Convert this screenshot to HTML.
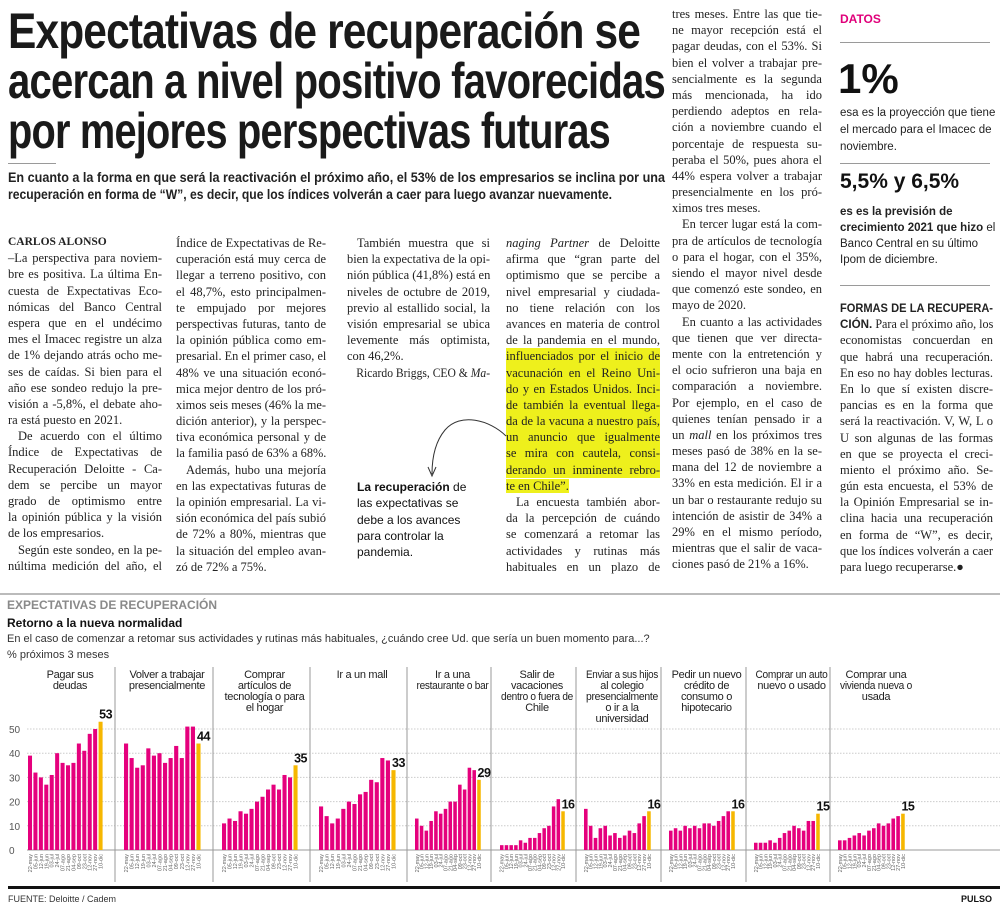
<!DOCTYPE html>
<html><head><meta charset="utf-8">
<style>
*{margin:0;padding:0;box-sizing:border-box}
body{width:1000px;height:911px;position:relative;background:#fff;overflow:hidden;font-family:"Liberation Serif",serif;color:#222}
.abs{position:absolute}
.fit{white-space:nowrap;transform-origin:0 50%;display:inline-block}
.hl{font-family:"Liberation Sans",sans-serif;font-weight:bold;font-size:50px;color:#1a1a1a;letter-spacing:-1px;line-height:50px}
.sub{font-family:"Liberation Sans",sans-serif;font-weight:bold;font-size:14px;color:#222;line-height:17px}
.col{position:absolute;font-size:12.5px;line-height:16.2px}
.col div{white-space:nowrap;text-align:justify;text-align-last:justify;height:16.2px;transform-origin:0 50%}
.col div.e{text-align:left;text-align-last:left}
.col div.i{padding-left:10px}
.y{background:#eef01c}
.sans{font-family:"Liberation Sans",sans-serif}
.rule{position:absolute;height:1px;background:#9a9a9a}
</style></head>
<body>
<div class="abs" style="left:8px;top:6px">
 <div class="hl"><span class="fit" data-w="632">Expectativas de recuperación se</span></div>
 <div class="hl"><span class="fit" data-w="657">acercan a nivel positivo favorecidas</span></div>
 <div class="hl"><span class="fit" data-w="602">por mejores perspectivas futuras</span></div>
</div>
<div class="rule" style="left:8px;top:163px;width:48px"></div>
<div class="abs" style="left:8px;top:169px">
 <div class="sub"><span class="fit" data-w="657">En cuanto a la forma en que será la reactivación el próximo año, el 53% de los empresarios se inclina por una</span></div>
 <div class="sub"><span class="fit" data-w="604">recuperación en forma de “W”, es decir, que los índices volverán a caer para luego avanzar nuevamente.</span></div>
</div>

<div class="col" style="left:8px;top:234px;width:154px;line-height:16.05px">
<div class="e" style="font-weight:bold;font-size:11.5px">CARLOS ALONSO</div>
<div>–La perspectiva para noviem-</div>
<div>bre es positiva. La última En-</div>
<div>cuesta de Expectativas Eco-</div>
<div>nómicas del Banco Central</div>
<div>espera que en el undécimo</div>
<div>mes el Imacec registre un alza</div>
<div>de 1% dejando atrás ocho me-</div>
<div>ses de caídas. Si bien para el</div>
<div>año ese sondeo redujo la pre-</div>
<div>visión a -5,8%, el debate aho-</div>
<div class="e">ra está puesto en 2021.</div>
<div class="i">De acuerdo con el último</div>
<div>Índice de Expectativas de</div>
<div>Recuperación Deloitte - Ca-</div>
<div>dem se percibe un mayor</div>
<div>grado de optimismo entre</div>
<div>la opinión pública y la visión</div>
<div class="e">de los empresarios.</div>
<div class="i">Según este sondeo, en la pe-</div>
<div>núltima medición del año, el</div>
</div>

<div class="col" style="left:176px;top:235px;width:150px">
<div>Índice de Expectativas de Re-</div>
<div>cuperación está muy cerca de</div>
<div>llegar a terreno positivo, con</div>
<div>el 48,7%, esto principalmen-</div>
<div>te empujado por mejores</div>
<div>perspectivas futuras, tanto de</div>
<div>la opinión pública como em-</div>
<div>presarial. En el primer caso, el</div>
<div>48% ve una situación econó-</div>
<div>mica mejor dentro de los pró-</div>
<div>ximos seis meses (46% la me-</div>
<div>dición anterior), y la perspec-</div>
<div>tiva económica personal y de</div>
<div class="e">la familia pasó de 63% a 68%.</div>
<div class="i">Además, hubo una mejoría</div>
<div>en las expectativas futuras de</div>
<div>la opinión empresarial. La vi-</div>
<div>sión económica del país subió</div>
<div>de 72% a 80%, mientras que</div>
<div>la situación del empleo avan-</div>
<div class="e">zó de 72% a 75%.</div>
</div>

<div class="col" style="left:347px;top:235px;width:143px">
<div class="i">También muestra que si</div>
<div>bien la expectativa de la opi-</div>
<div>nión pública (41,8%) está en</div>
<div>niveles de octubre de 2019,</div>
<div>previo al estallido social, la</div>
<div>visión empresarial se ubica</div>
<div>levemente más optimista,</div>
<div class="e">con 46,2%.</div>
<div class="i e">Ricardo Briggs, CEO &amp; <i>Ma-</i></div>
</div>

<div class="abs sans" style="left:357px;top:479px;font-size:12px;line-height:16.3px;color:#111">
<div><b>La recuperación</b> de</div>
<div>las expectativas se</div>
<div>debe a los avances</div>
<div>para controlar la</div>
<div>pandemia.</div>
</div>
<svg class="abs" style="left:0;top:0" width="1000" height="600">
<path d="M506,436 C490,420 460,412 445,430 C435,442 432,458 432,474" fill="none" stroke="#333" stroke-width="1"/>
<path d="M428,467 L432,476 L436,467" fill="none" stroke="#333" stroke-width="1"/>
</svg>

<div class="col" style="left:506px;top:235px;width:154px">
<div><i>naging Partner</i> de Deloitte</div>
<div>afirma que “gran parte del</div>
<div>optimismo que se percibe a</div>
<div>nivel empresarial y ciudada-</div>
<div>no tiene relación con los</div>
<div>avances en materia de control</div>
<div>de la pandemia en el mundo,</div>
<div class="y">influenciados por el inicio de</div>
<div class="y">vacunación en el Reino Uni-</div>
<div class="y">do y en Estados Unidos. Inci-</div>
<div class="y">de también la eventual llega-</div>
<div class="y">da de la vacuna a nuestro país,</div>
<div class="y">un anuncio que igualmente</div>
<div class="y">se mira con cautela, consi-</div>
<div class="y">derando un inminente rebro-</div>
<div class="e"><span class="y">te en Chile”.</span></div>
<div class="i">La encuesta también abor-</div>
<div>da la percepción de cuándo</div>
<div>se comenzará a retomar las</div>
<div>actividades y rutinas más</div>
<div>habituales en un plazo de</div>
</div>

<div class="col" style="left:672px;top:6px;width:150px;line-height:16.3px">
<div>tres meses. Entre las que tie-</div>
<div>ne mayor recepción está el</div>
<div>pagar deudas, con el 53%. Si</div>
<div>bien el volver a trabajar pre-</div>
<div>sencialmente es la segunda</div>
<div>más mencionada, ha ido</div>
<div>perdiendo adeptos en rela-</div>
<div>ción a noviembre cuando el</div>
<div>porcentaje de respuesta su-</div>
<div>peraba el 50%, pues ahora el</div>
<div>44% espera volver a trabajar</div>
<div>presencialmente en los pró-</div>
<div class="e">ximos tres meses.</div>
<div class="i">En tercer lugar está la com-</div>
<div>pra de artículos de tecnología</div>
<div>o para el hogar, con el 35%,</div>
<div>siendo el mayor nivel desde</div>
<div>que comenzó este sondeo, en</div>
<div class="e">mayo de 2020.</div>
<div class="i">En cuanto a las actividades</div>
<div>que tienen que ver directa-</div>
<div>mente con la entretención y</div>
<div>el ocio sufrieron una baja en</div>
<div>comparación a noviembre.</div>
<div>Por ejemplo, en el caso de</div>
<div>quienes tenían pensado ir a</div>
<div>un <i>mall</i> en los próximos tres</div>
<div>meses pasó de 38% en la se-</div>
<div>mana del 12 de noviembre a</div>
<div>33% en esta medición. El ir a</div>
<div>un bar o restaurante redujo su</div>
<div>intención de asistir de 34% a</div>
<div>29% en el mismo período,</div>
<div>mientras que el salir de vaca-</div>
<div class="e">ciones pasó de 21% a 16%.</div>
</div>

<div class="abs sans" style="left:840px;top:12px;font-size:12px;font-weight:bold;color:#e0007a">DATOS</div>
<div class="rule" style="left:840px;top:42px;width:150px"></div>
<div class="abs sans" style="left:838px;top:56px;font-size:42px;font-weight:bold;line-height:46px;color:#111">1%</div>
<div class="abs sans" style="left:840px;top:105px;font-size:11.5px;line-height:17px;color:#222">
<div>esa es la proyección que tiene</div><div>el mercado para el Imacec de</div><div>noviembre.</div></div>
<div class="rule" style="left:840px;top:163px;width:150px"></div>
<div class="abs sans" style="left:840px;top:169px;font-size:21px;font-weight:bold;line-height:26px;color:#111">5,5% y 6,5%</div>
<div class="abs sans" style="left:840px;top:204px;font-size:11.5px;line-height:16px;color:#222">
<div><b>es es la previsión de</b></div><div><b>crecimiento 2021 que hizo</b> el</div><div>Banco Central en su último</div><div>Ipom de diciembre.</div></div>
<div class="rule" style="left:840px;top:285px;width:150px"></div>
<div class="col" style="left:840px;top:300px;width:153px;line-height:16.7px">
<div class="sans" style="font-weight:bold;font-size:12px">FORMAS DE LA RECUPERA-</div>
<div><b class="sans" style="font-size:12px">CIÓN.</b> Para el próximo año, los</div>
<div>economistas concuerdan en</div>
<div>que habrá una recuperación.</div>
<div>En eso no hay dobles lecturas.</div>
<div>En lo que sí existen discre-</div>
<div>pancias es en la forma que</div>
<div>será la reactivación. V, W, L o</div>
<div>U son algunas de las formas</div>
<div>en que se proyecta el creci-</div>
<div>miento el próximo año. Se-</div>
<div>gún esta encuesta, el 53% de</div>
<div>la Opinión Empresarial se in-</div>
<div>clina hacia una recuperación</div>
<div>en forma de “W”, es decir,</div>
<div>que los índices volverán a caer</div>
<div class="e">para luego recuperarse.●</div>
</div>

<div class="rule" style="left:0;top:593px;width:1000px;height:2px;background:#bbb"></div>
<div class="abs sans" style="left:7px;top:598px;font-size:12px;font-weight:bold;color:#8a8a8a">EXPECTATIVAS DE RECUPERACIÓN</div>
<div class="abs sans" style="left:7px;top:616px;font-size:12px;font-weight:bold;color:#111">Retorno a la nueva normalidad</div>
<div class="abs sans" style="left:7px;top:633px;font-size:11px;color:#333">En el caso de comenzar a retomar sus actividades y rutinas más habituales, ¿cuándo cree Ud. que sería un buen momento para...?</div>
<div class="abs sans" style="left:7px;top:649px;font-size:11px;color:#333">% próximos 3 meses</div>

<svg id="chart" class="abs" style="left:0;top:660px" width="1000" height="251"></svg>

<script>
const panelTitles=[["Pagar sus","deudas"],["Volver a trabajar","presencialmente"],["Comprar","artículos de","tecnología o para","el hogar"],["Ir a un mall"],["Ir a una","restaurante o bar"],["Salir de","vacaciones","dentro o fuera de","Chile"],["Enviar a sus hijos","al colegio","presencialmente","o ir a la","universidad"],["Pedir un nuevo","crédito de","consumo o","hipotecario"],["Comprar un auto","nuevo o usado"],["Comprar una","vivienda nueva o","usada"]];
const dates=["22-may","05-jun","12-jun","19-jun","03-jul","24-jul","07-ago","21-ago","04-sep","09-oct","23-oct","12-nov","27-nov","10-dic"];
const yTicks=[0,10,20,30,40,50];
const sPagar=[39,32,30,27,31,40,36,35,36,44,41,48,50,53];
const sVolver=[44,38,34,35,42,39,40,36,38,43,38,51,51,44];
const sTecno=[11,13,12,16,15,17,20,22,25,27,25,31,30,35];
const sMall=[18,14,11,13,17,20,19,23,24,29,28,38,37,33];
const sRest=[13,10,8,12,16,15,17,20,20,27,25,34,33,29];
const sVac=[2,2,2,2,4,3,5,5,7,9,10,18,21,16];
const sCol=[17,10,5,9,10,6,7,5,6,8,7,11,14,16];
const sCred=[8,9,8,10,9,10,9,11,11,10,12,14,16,16];
const sAuto=[3,3,3,4,3,5,7,8,10,9,8,12,12,15];
const sViv=[4,4,5,6,7,6,8,9,11,10,11,13,14,15];
const series=[sPagar,sVolver,sTecno,sMall,sRest,sVac,sCol,sCred,sAuto,sViv];

const NS="http://www.w3.org/2000/svg";
const svg=document.getElementById('chart');
const panelX0=[28,124,222,319,415,500,584,669,754,838];
const panelX1=[104,202,299,397,482,566,652,736,821,906];
const seps=[115,213,310,407,491,576,661,746,830];
const base=190, unit=2.42;
const yScale=v=>base-v*unit;
function mk(t,a){const e=document.createElementNS(NS,t);for(const k in a)e.setAttribute(k,a[k]);svg.appendChild(e);return e;}

yTicks.forEach(t=>{
  const l=mk('line',{x1:27,x2:1000,y1:yScale(t),y2:yScale(t),stroke:t===0?'#999':'#ccc','stroke-width':1,'stroke-dasharray':t===0?'':'1.5,1.5'});
  
  
  const tx=mk('text',{x:9,y:yScale(t)+4,'font-size':10,fill:'#555','font-family':'Liberation Sans, sans-serif'});
  tx.textContent=t;
  
  
});
seps.forEach(x=>{
  const l=mk('line',{x1:x,x2:x,y1:7,y2:222,stroke:'#999','stroke-width':1});
  
  
});
series.forEach((vals,p)=>{
  const x0=panelX0[p], pitch=(panelX1[p]-x0)/vals.length, bw=pitch*0.74;
  const cx=(x0+panelX1[p])/2+4;
  panelTitles[p].forEach((ln,i)=>{
    const t=mk('text',{x:cx,y:18+i*11,'font-size':11,'text-anchor':'middle',fill:'#222','font-family':'Liberation Sans, sans-serif','letter-spacing':'-0.3'});
    t.textContent=ln;
    
    
    const maxW=p<4?88:72;
    if(t.getComputedTextLength()>maxW){t.setAttribute('textLength',maxW);t.setAttribute('lengthAdjust','spacingAndGlyphs');}
  });
  vals.forEach((v,i)=>{
    const last=i===vals.length-1;
    const bx=x0+i*pitch;
    const r=mk('rect',{x:bx,y:yScale(v),width:bw,height:v*unit,fill:last?'#f6b700':'#e5007d'});
    
    
    const d=mk('text',{transform:`translate(${bx+bw/2+2},${base+4}) rotate(-90)`,'font-size':5.5,'text-anchor':'end',fill:'#666','font-family':'Liberation Sans, sans-serif'});
    d.textContent=dates[i];
    
    
    if(last){
      const lb=mk('text',{x:bx+bw/2+5,y:yScale(v)-3,'font-size':12.5,'font-weight':'bold','text-anchor':'middle',fill:'#111','font-family':'Liberation Sans, sans-serif','letter-spacing':'-0.5'});
      lb.textContent=v;
      
      
    }
  });
});
const br=mk('rect',{x:8,y:226,width:992,height:3,fill:'#111'});


const src=mk('text',{x:8,y:242,'font-size':9,fill:'#333','font-family':'Liberation Sans, sans-serif'});
src.textContent='FUENTE: Deloitte / Cadem';


const pu=mk('text',{x:992,y:242,'font-size':9,'font-weight':'bold','text-anchor':'end',fill:'#111','font-family':'Liberation Sans, sans-serif'});
pu.textContent='PULSO';



document.querySelectorAll('.fit').forEach(s=>{
  const w=+s.dataset.w, nw=s.getBoundingClientRect().width;
  s.style.transform='scaleX('+(w/nw)+')';
});
document.querySelectorAll('.col div').forEach(d=>{
  if(d.scrollWidth>d.clientWidth+0.5){
    const k=d.clientWidth/d.scrollWidth;
    d.style.width=(d.clientWidth/k)+'px';
    d.style.transform='scaleX('+k+')';
  }
});
</script>
</body></html>
